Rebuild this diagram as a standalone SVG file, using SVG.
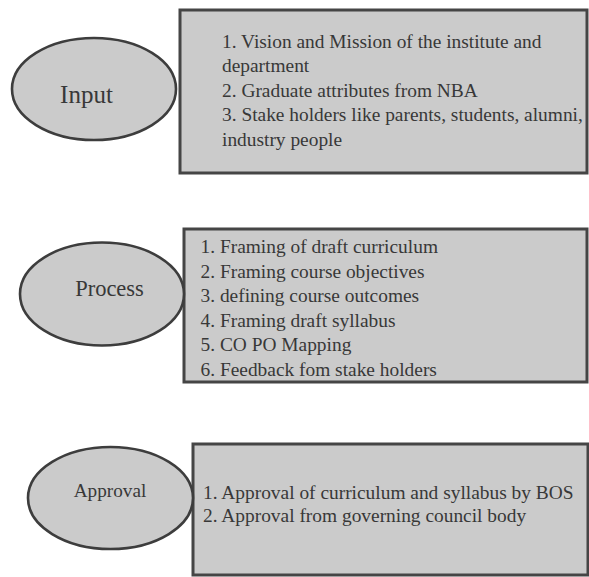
<svg xmlns="http://www.w3.org/2000/svg" width="589" height="577" viewBox="0 0 589 577">
<style>
.shape{fill:#cbcbcb;stroke:#3d3d3d;stroke-width:2.6}
.box{fill:#cbcbcb;stroke:#454545;stroke-width:3}
.t{font-family:"Liberation Serif","Times New Roman",serif;fill:#383838}
.item{font-size:19.4px}
.lbl{text-anchor:middle}
</style>
<rect width="589" height="577" fill="#ffffff"/>
<g id="connectors"></g>
<g id="input-box">
<rect class="box" x="180" y="10" width="407" height="163"/>
<text class="t item" x="222" y="47.5">1. Vision and Mission of the institute and</text>
<text class="t item" x="222" y="72">department</text>
<text class="t item" x="222" y="96.5">2. Graduate attributes from NBA</text>
<text class="t item" x="222" y="121">3. Stake holders like parents, students, alumni,</text>
<text class="t item" x="222" y="145.5">industry people</text>
</g>
<g id="input">
<ellipse class="shape" cx="94" cy="89" rx="82" ry="51"/>
<text class="t lbl" x="86.5" y="103" font-size="25">Input</text>
</g>
<g id="process-box">
<rect class="box" x="184" y="229" width="403" height="153"/>
<text class="t item" x="200.5" y="253">1. Framing of draft curriculum</text>
<text class="t item" x="200.5" y="277.5">2. Framing course objectives</text>
<text class="t item" x="200.5" y="302">3. defining course outcomes</text>
<text class="t item" x="200.5" y="326.5">4. Framing draft syllabus</text>
<text class="t item" x="200.5" y="351">5. CO PO Mapping</text>
<text class="t item" x="200.5" y="375.5">6. Feedback fom stake holders</text>
</g>
<g id="process">
<ellipse class="shape" cx="102" cy="294" rx="82" ry="51.5"/>
<text class="t lbl" x="109.5" y="295.5" font-size="22.5">Process</text>
</g>
<g id="approval-box">
<rect class="box" x="193" y="444" width="395" height="131"/>
<text class="t item" x="203" y="498.5" font-size="19.6">1. Approval of curriculum and syllabus by BOS</text>
<text class="t item" x="203" y="522" font-size="19.6">2. Approval from governing council body</text>
</g>
<g id="approval">
<ellipse class="shape" cx="110.5" cy="498" rx="82.5" ry="51"/>
<text class="t lbl" x="110" y="497" font-size="19.2">Approval</text>
</g>
</svg>
